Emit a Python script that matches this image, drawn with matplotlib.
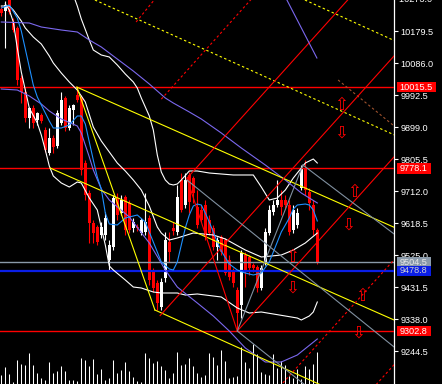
import matplotlib
matplotlib.use("Agg")
import matplotlib.pyplot as plt
from matplotlib.patches import Rectangle
import matplotlib.transforms as mtransforms

# ---------------- data ----------------
opens = [10243.8, 10238.0, 10279.0, 10205.8, 10188.3, 10042.2, 10001.3, 9925.3, 9954.5, 9919.5,
         9934.1, 9890.3, 9823.1, 9866.9, 9843.5, 9910.7, 9983.8, 9896.1, 9948.7, 9992.5,
         9986.7, 9793.8, 9706.2, 9618.5, 9606.8, 9583.5, 9583.5, 9510.4, 9548.4, 9691.6,
         9647.7, 9694.5, 9677.0, 9603.9, 9606.8, 9589.3, 9592.2, 9633.1, 9475.4, 9443.2,
         9373.1, 9457.8, 9563.0, 9603.9, 9592.2, 9744.2, 9671.1, 9758.8, 9750.0, 9665.3,
         9656.5, 9671.1, 9627.3, 9603.9, 9548.4, 9577.6, 9568.8, 9510.4, 9481.2, 9422.7,
         9378.9, 9525.0, 9519.2, 9495.8, 9490.0, 9428.6, 9504.6, 9589.3, 9650.7, 9671.1,
         9685.7, 9685.7, 9671.1, 9598.1, 9612.7, 9720.8, 9779.2, 9709.1, 9671.1, 9598.1]
highs = [10252.6, 10268.0, 10285.0, 10217.5, 10194.1, 10051.0, 10013.0, 9957.5, 9963.3, 9942.9,
         9939.9, 9899.0, 9896.1, 9875.6, 9948.7, 10001.3, 9989.6, 9963.3, 9966.2, 10015.5,
         9992.5, 9802.6, 9714.9, 9627.3, 9612.7, 9621.4, 9650.7, 9568.8, 9700.3, 9706.2,
         9700.3, 9700.3, 9685.7, 9633.1, 9615.6, 9633.1, 9706.2, 9641.9, 9487.0, 9452.0,
         9457.8, 9592.2, 9592.2, 9621.4, 9729.6, 9764.6, 9764.6, 9767.5, 9755.9, 9714.9,
         9671.1, 9685.7, 9641.9, 9612.7, 9577.6, 9583.5, 9574.7, 9525.0, 9487.0, 9431.5,
         9539.6, 9533.8, 9525.0, 9501.6, 9495.8, 9495.8, 9603.9, 9671.1, 9685.7, 9744.2,
         9714.9, 9700.3, 9685.7, 9671.1, 9662.3, 9788.0, 9802.6, 9720.8, 9685.7, 9603.9]
lows = [10223.4, 10129.9, 10229.2, 10176.6, 10021.7, 9969.1, 9913.6, 9896.1, 9896.1, 9904.9,
        9910.7, 9826.0, 9817.2, 9823.1, 9837.7, 9904.9, 9887.3, 9890.3, 9904.9, 9972.1,
        9758.8, 9685.7, 9560.1, 9560.1, 9554.2, 9574.7, 9568.8, 9481.2, 9539.6, 9627.3,
        9641.9, 9583.5, 9589.3, 9592.2, 9595.1, 9583.5, 9583.5, 9437.4, 9416.9, 9364.3,
        9364.3, 9446.1, 9504.6, 9583.5, 9583.5, 9650.7, 9662.3, 9647.7, 9677.0, 9603.9,
        9621.4, 9568.8, 9583.5, 9539.6, 9510.4, 9525.0, 9466.6, 9452.0, 9431.5, 9302.8,
        9340.9, 9431.5, 9466.6, 9475.4, 9416.9, 9422.7, 9495.8, 9583.5, 9641.9, 9665.3,
        9641.9, 9662.3, 9583.5, 9589.3, 9603.9, 9714.9, 9700.3, 9656.5, 9583.5, 9498.7]
closes = [10232.1, 10255.5, 10235.0, 10182.4, 10036.4, 10001.3, 9925.3, 9954.5, 9910.7, 9939.9,
          9916.6, 9831.8, 9866.9, 9840.6, 9939.9, 9977.9, 9896.1, 9954.5, 9963.3, 9977.9,
          9773.4, 9700.3, 9618.5, 9589.3, 9563.0, 9606.8, 9633.1, 9554.2, 9691.6, 9641.9,
          9685.7, 9598.1, 9598.1, 9621.4, 9603.9, 9627.3, 9621.4, 9452.0, 9428.6, 9384.8,
          9446.1, 9568.8, 9533.8, 9595.1, 9694.5, 9656.5, 9744.2, 9679.9, 9706.2, 9612.7,
          9627.3, 9577.6, 9589.3, 9548.4, 9568.8, 9533.8, 9472.4, 9460.7, 9443.2, 9355.5,
          9530.9, 9481.2, 9487.0, 9487.0, 9428.6, 9487.0, 9592.2, 9656.5, 9671.1, 9685.7,
          9665.3, 9671.1, 9592.2, 9656.5, 9647.7, 9779.2, 9714.9, 9677.0, 9598.1, 9504.5]
volumes = [900, 1700, 1000, 230, 2430, 2000, 1930, 3070, 1900, 1070,
           570, 400, 2170, 1070, 1270, 1830, 1270, 400, 400, 270,
           2570, 2400, 1830, 2500, 970, 1530, 430, 570, 2430, 1100,
           1370, 2170, 1270, 700, 300, 230, 3100, 2570, 2100, 2270,
           1830, 1370, 630, 1130, 3200, 1930, 2000, 2600, 1770, 1130,
           670, 870, 3100, 2670, 1870, 3370, 2300, 630, 700, 800,
           3700, 2200, 1600, 3970, 3030, 1170, 970, 930, 2970, 1570,
           2330, 1870, 830, 630, 1470, 500, 1770, 1470, 2000, 3200]

# indicator curves (bar index, price)
ma_fast_x = [0, 2, 4, 5, 6, 7, 8, 9, 10, 12, 13, 15, 17, 19, 20, 21, 22, 23, 24, 25, 26, 27, 29, 31, 34,
             36, 38, 40, 42, 43, 44, 45, 46, 47, 48, 49, 50, 51, 52, 53, 54, 55, 57, 59, 61, 63, 65,
             67, 68, 70, 72, 73, 74, 76, 77, 78, 79]
ma_fast_y = [10246.7, 10255.5, 10217.5, 10179.5, 10126.9, 10074.3, 10021.7, 9986.7, 9963.3, 9916.6,
             9896.1, 9896.1, 9904.9, 9931.2, 9931.2, 9907.8, 9855.2, 9802.6, 9752.9, 9717.9, 9647.7,
             9615.6, 9612.7, 9633.1, 9641.9, 9621.4, 9563.0, 9504.6, 9484.1, 9481.2, 9504.6, 9554.2,
             9603.9, 9641.9, 9668.2, 9674.0, 9671.1, 9647.7, 9621.4, 9592.2, 9563.0, 9536.7, 9498.7,
             9481.2, 9472.4, 9466.6, 9472.4, 9504.6, 9533.8, 9592.2, 9633.1, 9659.4, 9671.1, 9674.0,
             9671.1, 9656.5, 9624.4]
ma_slow_x = [0, 7, 10, 15, 19, 22, 25, 27, 30, 33, 37, 41, 43, 47, 50, 55, 60, 66, 71, 75, 79]
ma_slow_y = [10205.8, 10202.9, 10191.2, 10182.4, 10176.6, 10153.2, 10132.8, 10115.2, 10088.9,
             10062.6, 10024.7, 9983.8, 9969.1, 9942.9, 9922.4, 9881.5, 9837.7, 9788.0, 9744.2,
             9706.2, 9677.0]
ma_mid_x = [0, 4, 7, 10, 12, 15, 19, 20, 22, 23, 25, 27, 32, 37, 41, 44, 49, 53, 57, 61, 66, 70, 74, 79]
ma_mid_y = [10010.0, 10007.1, 9989.6, 9966.2, 9945.8, 9922.4, 9902.0, 9881.5, 9811.4, 9773.4,
            9717.9, 9685.7, 9636.1, 9560.1, 9481.2, 9431.5, 9384.8, 9346.8, 9302.9, 9253.3,
            9212.4, 9212.4, 9232.8, 9279.6]
bb_up_x = [18, 19, 20, 22, 23, 25, 27, 29, 31, 33, 34, 35, 36, 37, 38, 39, 40, 41, 42, 43, 44, 45,
           47, 49, 52, 58, 63, 65, 67, 69, 71, 73, 75, 76, 78, 79]
bb_up_y = [10284.7, 10252.6, 10214.6, 10153.2, 10124.0, 10109.4, 10103.6, 10080.2, 10053.9, 10030.5,
           10013.0, 9983.8, 9957.5, 9931.2, 9890.3, 9817.2, 9767.5, 9744.2, 9732.5, 9729.6, 9732.5,
           9744.2, 9770.5, 9770.5, 9764.6, 9758.8, 9758.8, 9723.7, 9685.7, 9691.6, 9714.9, 9750.0,
           9779.2, 9793.8, 9805.5, 9793.8]
bb_mid_x = [0, 2, 3, 5, 6, 8, 10, 12, 13, 15, 17, 19, 21, 23, 25, 27, 29, 31, 33, 35, 37, 39, 40,
            42, 44, 48, 53, 56, 61, 65, 70, 73, 76, 79]
bb_mid_y = [10252.6, 10252.6, 10240.9, 10208.7, 10188.3, 10162.0, 10141.5, 10106.5, 10086.0, 10056.8,
            10030.5, 10007.1, 9972.1, 9899.0, 9858.1, 9826.0, 9793.8, 9770.5, 9744.2, 9714.9,
            9668.2, 9606.8, 9589.3, 9568.8, 9574.7, 9589.3, 9583.5, 9571.8, 9539.6, 9519.2,
            9525.0, 9539.6, 9560.1, 9589.3]
bb_low_x = [1, 2, 3, 4, 5, 7, 9, 10, 11, 12, 13, 15, 17, 19, 20, 22, 24, 26, 27, 28, 31, 33, 35,
            38, 40, 44, 46, 49, 55, 59, 62, 65, 71, 74, 75, 77, 78, 79]
bb_low_y = [10258.4, 10240.9, 10205.8, 10129.9, 10059.7, 9954.5, 9910.7, 9875.6, 9831.8, 9785.0,
            9755.9, 9735.4, 9723.7, 9738.3, 9735.4, 9691.6, 9656.5, 9554.2, 9492.9, 9481.2,
            9452.0, 9431.5, 9428.6, 9416.9, 9414.0, 9414.0, 9408.1, 9411.1, 9402.3, 9370.2,
            9355.5, 9358.5, 9346.8, 9340.9, 9335.1, 9346.8, 9358.5, 9387.7]

# horizontal levels
level_red = [10015.5, 9778.1, 9302.8]
level_grey = 9504.5
level_blue = 9478.8

# trend lines: ((bar, price), (bar, price))
yellow_solid = [((18.9, 10015.5), (98.2, 9606.0)),
                ((18.9, 10015.5), (38.4, 9364.3)),
                ((12.2, 9779.2), (98.2, 9335.1)),
                ((38.4, 9364.3), (98.2, 9048.7))]
yellow_dotted = [((23.4, 10270.1), (98.2, 9876.2)),
                 ((75.9, 10270.1), (98.2, 10151.8))]
brown_dotted = [((84.2, 10036.4), (98.2, 9902.0))]
# pitchfork: upper tine, median, lower tine, and the P2-P3 base
red_solid = [((46.4, 9749.1), (87.7, 10284.4)),
             ((39.7, 9347.9), (98.2, 10106.8)),
             ((59.0, 9302.8), (98.2, 9811.9)),
             ((46.4, 9749.1), (59.0, 9302.8))]
red_dotted = [((33.7, 10205.8), (39.2, 10284.0)),
              ((40.0, 9980.5), (62.7, 10275.1)),
              ((70.4, 9151.3), (98.2, 9511.3)),
              ((93.7, 9146.3), (98.2, 9204.5))]
grey_lines = [((75.4, 9788.0), (98.2, 9586.4)),
              ((46.4, 9744.2), (98.2, 9256.2)),
              ((59.0, 9302.8), (75.4, 9788.0)),
              ((59.0, 9302.8), (77.2, 9133.5))]
purple_seg = [((71.4, 10270.1), (78.9, 10100.6))]

arrow_up_x = [84.9, 88.2, 72.7, 90.2]
arrow_up_y = [9963.3, 9709.1, 9519.2, 9405.2]
arrow_dn_x = [84.9, 86.7, 72.7, 89.2]
arrow_dn_y = [9881.5, 9612.7, 9428.6, 9297.1]

tick_values = [9244.5, 9338.0, 9431.5, 9525.0, 9618.5, 9712.0, 9805.5, 9899.0, 9992.5, 10086.0,
               10179.5, 10273.0]

# ---------------- drawing ----------------
W, H = 442, 384
fig = plt.figure(figsize=(W / 100, H / 100), dpi=100, facecolor="black")
axw = 394 / W
XLIM = (-0.325, 98.175)
YLIM = (9148.1, 10270.1)

axv = fig.add_axes([0, 0, axw, 1])
axv.set_facecolor("black")
axv.set_xlim(*XLIM)
axv.set_ylim(0, 38400)
axv.axis("off")
axv.vlines(range(len(volumes)), 0, volumes, color="white", lw=0.75)

ax = fig.add_axes([0, 0, axw, 1])
ax.set_facecolor("none")
ax.set_xlim(*XLIM)
ax.set_ylim(*YLIM)
for s in ["left", "top", "bottom"]:
    ax.spines[s].set_visible(False)
ax.spines["right"].set_color("white")
ax.spines["right"].set_linewidth(0.9)
ax.set_xticks([])
ax.yaxis.tick_right()
ax.set_yticks([t for t in tick_values if YLIM[0] <= t <= YLIM[1]])
ax.set_yticklabels([f"{t:.1f}" for t in tick_values if YLIM[0] <= t <= YLIM[1]],
                   fontfamily="Liberation Sans", fontsize=6.6)
ax.tick_params(axis="y", colors="white", length=3, width=0.8, pad=1.5)
ax.text(1.0, 10273.0, "  " + f"{10273.0:.1f}", transform=ax.get_yaxis_transform(),
        color="white", fontsize=6.6, fontfamily="Liberation Sans", va="center",
        ha="left", clip_on=False)

# candles
for i in range(len(opens)):
    o, h, l, c = opens[i], highs[i], lows[i], closes[i]
    col = "white" if c >= o else "#ff0000"
    ax.vlines(i, l, h, color=col, lw=0.8, zorder=2)
    bot = min(o, c)
    ht = max(abs(c - o), 2.5)
    ax.bar(i, ht, bottom=bot, width=0.7, color=col, linewidth=0, zorder=2)

# horizontal levels
for lv in level_red:
    ax.axhline(lv, color="#ff0000", lw=1.0, zorder=3)
ax.axhline(level_grey, color="#8a9aaa", lw=1.0, zorder=3)
ax.axhline(level_blue, color="#0a1ee6", lw=1.6, zorder=3)

# indicators
ax.plot(bb_up_x, bb_up_y, color="white", lw=0.8, zorder=3)
ax.plot(bb_mid_x, bb_mid_y, color="white", lw=0.8, zorder=3)
ax.plot(bb_low_x, bb_low_y, color="white", lw=0.8, zorder=3)
ax.plot(ma_slow_x, ma_slow_y, color="#7b68ee", lw=0.8, zorder=3)
ax.plot(ma_mid_x, ma_mid_y, color="#7b68ee", lw=0.8, zorder=3)
ax.plot(ma_fast_x, ma_fast_y, color="#1e90ff", lw=0.8, zorder=3)


def seg(lines, **kw):
    for (x0, y0), (x1, y1) in lines:
        ax.plot([x0, x1], [y0, y1], zorder=4, **kw)


seg(yellow_solid, color="#ffff00", lw=0.8)
seg(yellow_dotted, color="#ffff00", lw=0.8, ls=(0, (2.2, 2.2)))
seg(brown_dotted, color="#a0522d", lw=0.8, ls=(0, (2.2, 2.2)))
seg(red_solid, color="#ff0000", lw=0.8)
seg(red_dotted, color="#ff0000", lw=0.8, ls=(0, (2.2, 2.2)))
seg(grey_lines, color="#8090a0", lw=0.8)
seg(purple_seg, color="#7b68ee", lw=0.8)

for x, y in zip(arrow_up_x, arrow_up_y):
    ax.text(x, y, "\u21e7", color="#ff0000", fontsize=12, ha="center", va="center",
            fontfamily="DejaVu Sans", zorder=5)
for x, y in zip(arrow_dn_x, arrow_dn_y):
    ax.text(x, y, "\u21e9", color="#ff0000", fontsize=12, ha="center", va="center",
            fontfamily="DejaVu Sans", zorder=5)

# price labels
tr = mtransforms.blended_transform_factory(ax.transAxes, ax.transData)
px_x = 1.0 / 394
px_y = (YLIM[1] - YLIM[0]) / 384
labels = [(level_red[0], "#ff0000", "white"), (level_red[1], "#ff0000", "white"),
          (level_grey, "#8a9aaa", "#e8e8e8"), (level_blue, "#0a1ee6", "#d0d0d0"),
          (level_red[2], "#ff0000", "white")]
for val, bg, fg in labels:
    txt = f"{val:.1f}"
    wpx = 39 if len(txt) > 6 else 34
    ax.add_patch(Rectangle((1.0 + 3 * px_x, val - 5.2 * px_y), wpx * px_x, 10.4 * px_y,
                           transform=tr, facecolor=bg, edgecolor="none", clip_on=False, zorder=6))
    ax.text(1.0 + 5.5 * px_x, val, txt, transform=tr, color=fg, fontsize=6.6,
            fontfamily="Liberation Sans", va="center", ha="left", clip_on=False, zorder=7)

fig.savefig("out.png", dpi=100, facecolor="black")
